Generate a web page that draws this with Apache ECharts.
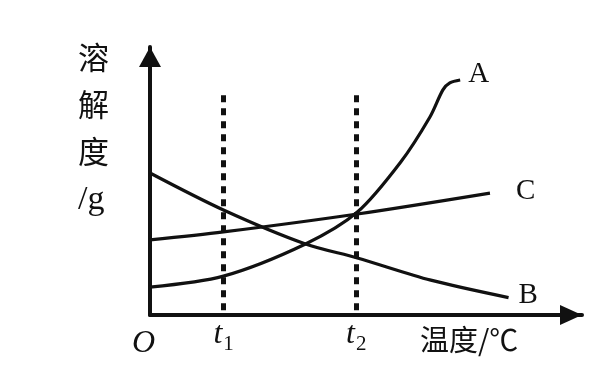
<!DOCTYPE html>
<html><head><meta charset="utf-8">
<script src="https://cdn.jsdelivr.net/npm/echarts@6/dist/echarts.min.js"></script>
<style>html,body{margin:0;padding:0;background:#fff}#c{width:616px;height:376px}</style>
</head><body><div id="c"></div>
<script>
// Data (arbitrary units: x 0-100 temperature, y 0-100 solubility)
var seriesNames = ['A', 'B', 'C'];
var curveA = [[0,10.4],[17,14.5],[36,26.5],[48,38.4],[58,57],[64.8,73.9],[67.8,84],[69.4,86.6],[71.8,87.7]];
var curveB = [[0,53],[17,39.2],[36,26.5],[48,21.3],[65,13],[83,6.5]];
var curveC = [[0,28],[17,31],[48,37.7],[78.7,45.5]];
var tickNames = ['1', '2'];      // t1, t2
var tickValues = [17, 47.7];
var dottedTop = 82;
var xTitle = '温度/℃';
var yTitle = ['溶', '解', '度', '/g'];
var originLabel = 'O';

var chart = echarts.init(document.getElementById('c'));
var serif = '"Liberation Serif","DejaVu Serif",serif';
var cjk = '"Noto Sans CJK SC",sans-serif';

function mkSeries(name, data, off) {
  return {
    name: name, type: 'line', data: data, smooth: 0.3,
    symbol: 'none', lineStyle: {color: '#111', width: 3.2},
    endLabel: {show: true, formatter: name, color: '#111', fontFamily: serif, fontSize: 29, offset: off},
    silent: true, z: 3
  };
}

var markData = tickValues.map(function (v, i) {
  return [{coord: [v, dottedTop]}, {coord: [v, 0]}];
});

var series = [
  mkSeries(seriesNames[0], curveA, [0, -6]),
  mkSeries(seriesNames[1], curveB, [2, -2]),
  mkSeries(seriesNames[2], curveC, [18, -2])
];
series[0].markLine = {
  silent: true, symbol: ['none', 'none'],
  lineStyle: {color: '#111', width: 5, type: [7, 6]},
  label: {show: false},
  data: markData
};

var graphics = [];
tickValues.forEach(function (v, i) {
  graphics.push({type: 'text', id: 't' + i, style: {
    text: '{t|t}{s|' + tickNames[i] + '}',
    rich: {
      t: {fontFamily: serif, fontStyle: 'italic', fontSize: 32, fill: '#111'},
      s: {fontFamily: serif, fontSize: 21, fill: '#111', verticalAlign: 'bottom', padding: [18, 0, 0, 1]}
    }, fill: '#111'
  }, left: 0, top: 0});
});
yTitle.forEach(function (s, i) {
  graphics.push({type: 'text', left: 78, top: 42 + i * 47,
    style: {text: s, fontFamily: s === '/g' ? serif : cjk, fontSize: s === '/g' ? 34 : 31, fill: '#111'}});
});
graphics.push({type: 'text', left: 420, top: 325, style: {text: xTitle, fontFamily: cjk, fontSize: 29, fill: '#111'}});
graphics.push({type: 'text', left: 132, top: 328, style: {text: originLabel, fontFamily: serif, fontStyle: 'italic', fontSize: 32, fill: '#111'}});

chart.setOption({
  animation: false,
  backgroundColor: '#fff',
  grid: {left: 150, right: 34, top: 47, bottom: 61},
  xAxis: {type: 'value', min: 0, max: 100, splitLine: {show: false}, axisTick: {show: false}, axisLabel: {show: false},
    axisLine: {onZero: false, lineStyle: {color: '#111', width: 4}, symbol: ['none', 'triangle'], symbolSize: [20, 22], symbolOffset: [0, -11]}},
  yAxis: {type: 'value', min: 0, max: 100, splitLine: {show: false}, axisTick: {show: false}, axisLabel: {show: false},
    axisLine: {onZero: false, lineStyle: {color: '#111', width: 4}, symbol: ['none', 'triangle'], symbolSize: [22, 20], symbolOffset: [0, -10]}},
  series: series,
  graphic: graphics
});

// place tick labels under the dotted lines using the axis scale
var gOpt = [];
tickValues.forEach(function (v, i) {
  var p = chart.convertToPixel({gridIndex: 0}, [v, 0]);
  gOpt.push({id: 't' + i, left: p[0] - 10, top: p[1] + 4});
});
chart.setOption({graphic: gOpt});
</script>
</body></html>
